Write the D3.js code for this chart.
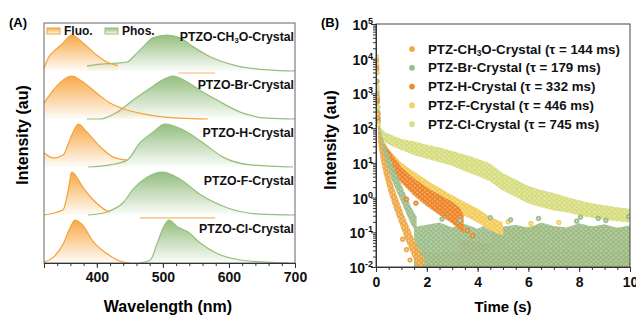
<!DOCTYPE html>
<html>
<head>
<meta charset="utf-8">
<script src="https://cdn.jsdelivr.net/npm/d3@7"></script>
<style>
    body { margin: 0; background: #fff; }
    svg { font-family: 'Liberation Sans', Arial, sans-serif; font-weight: bold; }
</style>
</head>
<body>
<svg id="chart" width="636" height="317"></svg>
<script>
// ---------- panel A: steady-state spectra (wavelength nm, normalised intensity) ----------
const samplesA = ['CH3O', 'Br', 'H', 'F', 'Cl'];
const wlTicks = [400, 500, 600, 700];

const fluoCH3O = [[320, 0.08], [329, 0.44], [334, 0.53], [349, 0.78], [362, 1.0], [379, 0.78], [400, 0.44], [415, 0.25], [427, 0.17], [432, 0.15]];
const phosCH3O = [[385, 0.14], [405, 0.19], [431, 0.22], [446, 0.25], [455, 0.39], [470, 0.67], [485, 0.92], [506, 1.0], [526, 0.92], [546, 0.67], [567, 0.44], [606, 0.17], [658, 0.03], [700, 0.0]];
const fluoBr = [[320, 0.37], [334, 0.67], [349, 0.91], [362, 1.0], [379, 0.86], [400, 0.6], [420, 0.37], [446, 0.21], [481, 0.09], [526, 0.02], [568, 0.0]];
const phosBr = [[385, 0.0], [405, 0.0], [431, 0.16], [455, 0.44], [481, 0.72], [500, 0.91], [515, 1.0], [537, 0.86], [556, 0.67], [582, 0.44], [617, 0.16], [658, 0.02], [700, 0.0]];
const fluoH = [[320, 0.33], [334, 0.21], [349, 0.28], [359, 0.63], [372, 1.0], [385, 0.81], [405, 0.47], [425, 0.23], [446, 0.16]];
const phosH = [[387, 0.0], [420, 0.05], [446, 0.16], [465, 0.56], [485, 0.81], [503, 1.0], [531, 0.86], [561, 0.56], [591, 0.23], [632, 0.05], [697, 0.0]];
const fluoF = [[320, 0.0], [349, 0.12], [356, 0.52], [362, 1.0], [379, 0.64], [394, 0.36], [415, 0.1], [420, 0.07]];
const phosF = [[387, 0.0], [415, 0.07], [440, 0.29], [455, 0.6], [476, 0.88], [500, 1.0], [526, 0.83], [556, 0.48], [597, 0.17], [647, 0.02], [700, 0.0]];
const fluoCl = [[320, 0.02], [334, 0.13], [349, 0.44], [359, 0.8], [367, 1.0], [378, 0.89], [394, 0.51], [415, 0.22], [440, 0.02], [450, 0.0]];
const phosCl = [[465, 0.0], [481, 0.07], [491, 0.44], [500, 0.8], [509, 1.0], [522, 0.84], [537, 0.73], [556, 0.47], [582, 0.22], [617, 0.07], [658, 0.02], [690, 0.0]];

// short orange baseline segments seen in the figure: [sample, from nm, to nm, level]
const strayFluo = [['Br', 523, 579, 1.07], ['Cl', 465, 579, 1.05]];

// ---------- panel B: phosphorescence decay (time s, log10 intensity) ----------
const samplesB = ['CH3O', 'Br', 'H', 'F', 'Cl'];
const tauB = [144, 179, 332, 446, 745];
const timeTicks = [0, 2, 4, 6, 8, 10];
const decadeTicks = [-2, -1, 0, 1, 2, 3, 4, 5];

// decay bands: [t, low log10, high log10] as read from the point clouds
const bandCH3O = [[0.08, 1.6, 2.1], [0.2, 1.05, 1.65], [0.3, 0.7, 1.3], [0.5, 0.15, 0.75], [0.7, -0.3, 0.3], [0.9, -0.7, -0.1], [1.1, -1.1, -0.5], [1.3, -1.45, -0.85], [1.5, -1.8, -1.2], [1.7, -2.05, -1.5], [1.9, -2.05, -1.8]];
const bandBr = [[0.08, 1.75, 2.3], [0.2, 1.35, 1.85], [0.4, 0.9, 1.4], [0.6, 0.55, 1.05], [0.8, 0.2, 0.7], [1.0, -0.13, 0.37], [1.2, -0.47, 0.03], [1.4, -0.8, -0.3], [1.6, -1.0, -0.55]];
const bandH = [[0.3, 1.12, 1.58], [0.6, 0.82, 1.28], [1.0, 0.42, 0.88], [1.5, 0.05, 0.55], [2.0, -0.25, 0.29], [2.5, -0.5, 0.08], [3.0, -0.75, -0.12], [3.3, -0.95, -0.3], [3.45, -1.05, -0.5]];
const bandF = [[0.15, 1.55, 1.95], [0.3, 1.25, 1.65], [0.5, 1.0, 1.4], [1.0, 0.6, 1.0], [1.5, 0.35, 0.75], [2.0, 0.1, 0.5], [2.5, -0.12, 0.28], [3.0, -0.33, 0.07], [3.5, -0.53, -0.13], [4.0, -0.72, -0.32], [4.5, -0.95, -0.55], [5.0, -1.1, -0.72]];
const bandCl = [[0.1, 1.9, 2.2], [0.2, 1.7, 2.0], [0.4, 1.57, 1.87], [0.7, 1.46, 1.78], [1.0, 1.37, 1.69], [1.5, 1.22, 1.62], [2.0, 1.12, 1.52], [2.5, 1.02, 1.44], [3.0, 0.92, 1.34], [3.5, 0.76, 1.24], [4.0, 0.62, 1.12], [4.5, 0.46, 0.98], [5.0, 0.2, 0.7], [5.5, 0.02, 0.52], [6.0, -0.17, 0.33], [6.5, -0.28, 0.22], [7.0, -0.37, 0.13], [7.5, -0.42, 0.02], [8.0, -0.52, -0.08], [8.5, -0.58, -0.16], [9.0, -0.64, -0.22], [9.5, -0.68, -0.28], [10.0, -0.72, -0.32]];

// noise floors (upper edge read every 0.5 s)
const floorCH3O = [[1.5, -2.05, -1.55], [3, -2.05, -1.6], [4.5, -2.05, -1.5], [6, -2.05, -1.6], [7.5, -2.05, -1.5], [9, -2.05, -1.6], [10, -2.05, -1.55]];
const floorH = [[3.3, -2.05, -1.2], [4.5, -2.05, -1.35], [6, -2.05, -1.3], [7.5, -2.05, -1.4], [9, -2.05, -1.3], [10, -2.05, -1.35]];
const floorF = [[4.5, -1.6, -0.8], [5.5, -1.5, -0.88], [6.5, -1.55, -0.8], [7.5, -1.5, -0.9], [8.5, -1.55, -0.82], [10, -1.5, -0.88]];
const floorBr = [[1.5, -2.05, -0.85], [2, -2.05, -0.78], [2.5, -2.05, -0.72], [3, -2.05, -0.86], [3.5, -2.05, -0.76], [4, -2.05, -0.9], [4.5, -2.05, -0.72], [5, -2.05, -0.84], [5.5, -2.05, -0.78], [6, -2.05, -0.88], [6.5, -2.05, -0.72], [7, -2.05, -0.82], [7.5, -2.05, -0.86], [8, -2.05, -0.74], [8.5, -2.05, -0.83], [9, -2.05, -0.77], [9.5, -2.05, -0.88], [10, -2.05, -0.8]];

// first points after excitation (t, log10 I)
const spikeCH3O = [[0.02, 3.95], [0.03, 3.7], [0.05, 2.9], [0.07, 2.4]];
const spikeBr = [[0.03, 3.35], [0.04, 3.0], [0.05, 2.75], [0.07, 2.45], [0.08, 2.2]];
const spikeH = [[0.02, 3.8], [0.03, 3.6], [0.05, 2.8], [0.07, 2.3]];
const spikeF = [[0.02, 4.05], [0.02, 3.85], [0.03, 3.6], [0.04, 3.2], [0.06, 2.6], [0.08, 2.1]];
const spikeCl = [[0.04, 3.35], [0.05, 3.1], [0.06, 2.85], [0.07, 2.6], [0.08, 2.4], [0.09, 2.25]];

// isolated points outside the bands
const outlierBr = [[2.6, -0.62], [3.3, -0.66], [4.5, -0.58], [5.3, -0.64], [6.4, -0.6], [7.9, -0.68], [8.05, -0.57], [8.75, -0.6], [9.05, -0.66], [9.95, -0.55]];
const outlierH = [[1.2, -0.05], [1.57, -0.16], [3.6, -0.95], [3.8, -1.1]];
const outlierCH3O = [[1.2, -1.5], [1.34, -1.8], [1.05, -1.2]];
const outlierF = [[5.2, -0.7], [6.1, -0.75], [7.2, -0.72]];

const colorsB = { CH3O: '#f5a944', Br: '#9dbf88', H: '#f4882a', F: '#f9d35e', Cl: '#dce383' };

const svg = d3.select('#chart');
const defs = svg.append('defs');

function vGrad(id, color) {
    const g = defs.append('linearGradient').attr('id', id)
        .attr('x1', 0).attr('y1', 0).attr('x2', 0).attr('y2', 1);
    g.append('stop').attr('offset', '0%').attr('stop-color', color).attr('stop-opacity', 0.95);
    g.append('stop').attr('offset', '100%').attr('stop-color', color).attr('stop-opacity', 0.03);
}
vGrad('gFluo', '#f6a43c');
vGrad('gPhos', '#8fbb78');

// label with CH3O subscript
function crystalText(sel, prefix, s, suffix, size) {
    if (s === 'CH3O') {
        sel.append('tspan').text(prefix + 'CH');
        sel.append('tspan').attr('font-size', size * 0.62).attr('dy', size * 0.28).text('3');
        sel.append('tspan').attr('dy', -size * 0.28).text('O' + suffix);
    } else {
        sel.text(prefix + s + suffix);
    }
}

function styleAxis(g, size) {
    g.attr('font-family', null).attr('font-size', size);
    g.selectAll('line').attr('stroke', '#333');
    g.selectAll('path').attr('stroke', '#333');
    g.selectAll('text').attr('fill', '#111');
}

// ================= panel A =================
const A = { left: 44, right: 295, top: 23, bottom: 263 };
const xA = d3.scaleLinear().domain([320, 700]).range([A.left, A.right]);
const slot = d3.scaleBand().domain(samplesA).range([A.top, A.bottom]);
const spectra = {
    CH3O: [fluoCH3O, phosCH3O], Br: [fluoBr, phosBr], H: [fluoH, phosH],
    F: [fluoF, phosF], Cl: [fluoCl, phosCl]
};

const gA = svg.append('g');

samplesA.forEach((s, i) => {
    const base = slot(s) + slot.bandwidth();
    const h = i === 0 ? 36 : 43;
    const yS = d3.scaleLinear().domain([0, 1]).range([base, base - h]);
    const area = d3.area().x(d => xA(d[0])).y0(base).y1(d => yS(d[1])).curve(d3.curveMonotoneX);
    const line = d3.line().x(d => xA(d[0])).y(d => yS(d[1])).curve(d3.curveMonotoneX);
    const [fl, ph] = spectra[s];

    gA.append('path').attr('d', area(ph)).attr('fill', 'url(#gPhos)');
    gA.append('path').attr('d', area(fl)).attr('fill', 'url(#gFluo)');
    gA.append('path').attr('d', line(ph)).attr('fill', 'none').attr('stroke', '#93bf7d').attr('stroke-width', 1.2);
    gA.append('path').attr('d', line(fl)).attr('fill', 'none').attr('stroke', '#f4a23a').attr('stroke-width', 1.2);

    strayFluo.filter(d => d[0] === s).forEach(d => {
        gA.append('line')
            .attr('x1', xA(d[1])).attr('x2', xA(d[2]))
            .attr('y1', yS(d[3])).attr('y2', yS(d[3]))
            .attr('stroke', '#f6b865').attr('stroke-width', 1.2);
    });

    const lbl = gA.append('text')
        .attr('x', A.right - 1)
        .attr('y', slot(s) + 14)
        .attr('text-anchor', 'end')
        .attr('dominant-baseline', 'central')
        .attr('font-size', 12.3)
        .attr('fill', '#111');
    crystalText(lbl, 'PTZO-', s, '-Crystal', 12.3);
});

gA.append('rect')
    .attr('x', A.left).attr('y', A.top)
    .attr('width', A.right - A.left).attr('height', A.bottom - A.top)
    .attr('fill', 'none').attr('stroke', '#666').attr('stroke-width', 1);

gA.append('g')
    .attr('transform', `translate(0,${A.bottom})`)
    .call(d3.axisBottom(xA).tickValues(d3.range(320, 701, 20)).tickSize(3).tickFormat(''))
    .call(g => styleAxis(g, 14));
gA.append('g')
    .attr('transform', `translate(0,${A.bottom})`)
    .call(d3.axisBottom(xA).tickValues(wlTicks).tickSize(5).tickPadding(4).tickFormat(d3.format('d')))
    .call(g => styleAxis(g, 14));

// legend A
[['Fluo.', 'url(#gFluo)', '#f4a23a', 47], ['Phos.', 'url(#gPhos)', '#93bf7d', 105]].forEach(([t, fill, stroke, x]) => {
    gA.append('rect').attr('x', x).attr('y', 28).attr('width', 13).attr('height', 6)
        .attr('fill', fill).attr('stroke', stroke).attr('stroke-width', 1);
    gA.append('text').attr('x', x + 17).attr('y', 31).attr('dominant-baseline', 'central')
        .attr('font-size', 12).attr('fill', '#111').text(t);
});

svg.append('text').attr('x', 9).attr('y', 27).attr('font-size', 13).text('(A)');
svg.append('text')
    .attr('transform', `translate(28,135) rotate(-90)`)
    .attr('text-anchor', 'middle').attr('font-size', 16).text('Intensity (au)');
svg.append('text').attr('x', 168).attr('y', 312)
    .attr('text-anchor', 'middle').attr('font-size', 16).text('Wavelength (nm)');

// ================= panel B =================
const B = { left: 376, right: 630, top: 24, bottom: 267 };
const xB = d3.scaleLinear().domain([0, 10]).range([B.left, B.right]);
const yB = d3.scaleLog().domain([1e-2, 1e5]).range([B.bottom, B.top]);

defs.append('clipPath').attr('id', 'clipB').append('rect')
    .attr('x', B.left).attr('y', B.top).attr('width', B.right - B.left).attr('height', B.bottom - B.top);

// tile of marker circles used to fill the point clouds
function dotPattern(id, color, dx, dy) {
    const w = 5, hh = 4.4;
    const p = defs.append('pattern').attr('id', id)
        .attr('patternUnits', 'userSpaceOnUse')
        .attr('width', w).attr('height', hh)
        .attr('patternTransform', `translate(${dx},${dy})`);
    const centers = [[1.25, 1.1], [3.75, 3.3]];
    const shifts = [];
    [-w, 0, w].forEach(ox => [-hh, 0, hh].forEach(oy => shifts.push([ox, oy])));
    centers.forEach(([cx, cy]) => shifts.forEach(([ox, oy]) => {
        p.append('circle').attr('cx', cx + ox).attr('cy', cy + oy).attr('r', 2.2)
            .attr('fill', color).attr('stroke', d3.color(color).darker(0.3)).attr('stroke-width', 0.4);
    }));
    centers.forEach(([cx, cy]) => shifts.forEach(([ox, oy]) => {
        p.append('circle').attr('cx', cx + ox).attr('cy', cy + oy).attr('r', 0.75)
            .attr('fill', '#fff').attr('fill-opacity', 0.55);
    }));
}
const offsets = { CH3O: [0, 0], Br: [2.3, 1], H: [1.2, 2], F: [3.4, 0.5], Cl: [0.6, 1.5] };
samplesB.forEach(s => dotPattern('dots' + s, colorsB[s], offsets[s][0], offsets[s][1]));

const gB = svg.append('g').attr('clip-path', 'url(#clipB)');
const bandArea = d3.area()
    .x(d => xB(d[0]))
    .y0(d => yB(Math.pow(10, d[1])))
    .y1(d => yB(Math.pow(10, d[2])));

const layers = [
    [floorCH3O, 'CH3O', 1], [floorH, 'H', 1], [floorF, 'F', 1], [floorBr, 'Br', 0.95],
    [bandCl, 'Cl', 1], [bandF, 'F', 1], [bandH, 'H', 1], [bandBr, 'Br', 0.95], [bandCH3O, 'CH3O', 0.95]
];
layers.forEach(([data, s, op]) => {
    gB.append('path').attr('d', bandArea(data)).attr('fill', `url(#dots${s})`).attr('fill-opacity', op);
});

const pointSets = [
    [outlierCH3O, 'CH3O'], [outlierH, 'H'], [outlierF, 'F'], [outlierBr, 'Br'],
    [spikeCl, 'Cl'], [spikeBr, 'Br'], [spikeH, 'H'], [spikeCH3O, 'CH3O'], [spikeF, 'F']
];
pointSets.forEach(([data, s]) => {
    const g = gB.append('g');
    g.selectAll('circle.o').data(data).join('circle')
        .attr('class', 'o')
        .attr('cx', d => xB(d[0]))
        .attr('cy', d => yB(Math.pow(10, d[1])))
        .attr('r', 2.4)
        .attr('fill', colorsB[s])
        .attr('stroke', d3.color(colorsB[s]).darker(0.3))
        .attr('stroke-width', 0.5);
    g.selectAll('circle.i').data(data).join('circle')
        .attr('class', 'i')
        .attr('cx', d => xB(d[0]))
        .attr('cy', d => yB(Math.pow(10, d[1])))
        .attr('r', 0.9)
        .attr('fill', '#fff').attr('fill-opacity', 0.6);
});

svg.append('rect')
    .attr('x', B.left).attr('y', B.top)
    .attr('width', B.right - B.left).attr('height', B.bottom - B.top)
    .attr('fill', 'none').attr('stroke', '#444').attr('stroke-width', 1);

// x axis
svg.append('g')
    .attr('transform', `translate(0,${B.bottom})`)
    .call(d3.axisBottom(xB).tickValues(d3.range(0, 10.01, 0.5)).tickSize(3).tickFormat(''))
    .call(g => styleAxis(g, 14));
svg.append('g')
    .attr('transform', `translate(0,${B.bottom})`)
    .call(d3.axisBottom(xB).tickValues(timeTicks).tickSize(5).tickPadding(5).tickFormat(d3.format('d')))
    .call(g => styleAxis(g, 14));

// y axis (log)
const minorY = [];
decadeTicks.slice(0, -1).forEach(k => d3.range(2, 10).forEach(m => minorY.push(m * Math.pow(10, k))));
svg.append('g')
    .attr('transform', `translate(${B.left},0)`)
    .call(d3.axisLeft(yB).tickValues(minorY).tickSize(3).tickFormat(''))
    .call(g => styleAxis(g, 14));
svg.append('g')
    .attr('transform', `translate(${B.left},0)`)
    .call(d3.axisLeft(yB).tickValues(decadeTicks.map(k => Math.pow(10, k))).tickSize(5).tickFormat(''))
    .call(g => styleAxis(g, 14));

decadeTicks.forEach(k => {
    const t = svg.append('text')
        .attr('x', B.left - 3)
        .attr('y', yB(Math.pow(10, k)) + 6)
        .attr('text-anchor', 'end')
        .attr('font-size', 14)
        .attr('fill', '#111');
    t.append('tspan').text('10');
    t.append('tspan').attr('font-size', 9).attr('dy', -6).text(k);
});

// legend B
samplesB.forEach((s, i) => {
    const y = 49 + i * 18.8;
    svg.append('circle').attr('cx', 412).attr('cy', y).attr('r', 2.6)
        .attr('fill', colorsB[s]).attr('stroke', d3.color(colorsB[s]).darker(0.3)).attr('stroke-width', 0.5);
    const t = svg.append('text').attr('x', 428).attr('y', y)
        .attr('dominant-baseline', 'central').attr('font-size', 13.3).attr('fill', '#111');
    crystalText(t, 'PTZ-', s, `-Crystal (\u03c4 = ${tauB[i]} ms)`, 13.3);
});

svg.append('text').attr('x', 321).attr('y', 27).attr('font-size', 13).text('(B)');
svg.append('text')
    .attr('transform', `translate(336,140) rotate(-90)`)
    .attr('text-anchor', 'middle').attr('font-size', 16).text('Intensity (au)');
svg.append('text').attr('x', 503).attr('y', 312)
    .attr('text-anchor', 'middle').attr('font-size', 15).text('Time (s)');
</script>
</body>
</html>
